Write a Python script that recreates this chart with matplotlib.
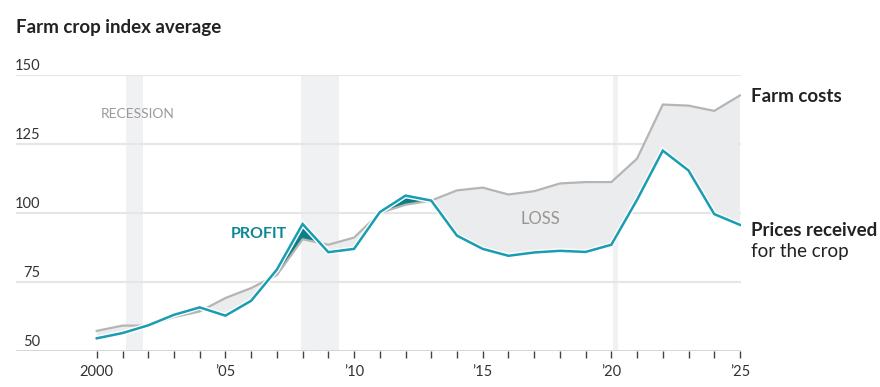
import matplotlib.pyplot as plt
import numpy as np

years = list(range(2000, 2026))
farm_costs = [57.3, 59.2, 59.2, 62.3, 64.3, 69.2, 72.8, 77.5, 90.5, 88.5, 91.1,
              100.0, 103.0, 104.5, 108.2, 109.2, 106.7, 107.9, 110.7, 111.2,
              111.2, 119.7, 139.3, 138.9, 137.0, 142.6]
prices = [54.6, 56.5, 59.3, 63.1, 65.8, 62.8, 68.2, 79.5, 96.0, 85.8, 87.0,
          100.3, 106.3, 104.5, 91.8, 87.0, 84.5, 85.7, 86.3, 85.9,
          88.5, 104.8, 122.6, 115.4, 99.6, 95.7]
recessions = [(2001.15, 2001.8), (2007.92, 2009.42), (2020.08, 2020.25)]
y_ticks = [50, 75, 100, 125, 150]
x_ticks = [2000, 2005, 2010, 2015, 2020, 2025]
x_labels = ["2000", "\u201905", "\u201910", "\u201915", "\u201920", "\u201925"]

plt.rcParams['font.family'] = ['Lato', 'DejaVu Sans']

fig = plt.figure(figsize=(8.8, 3.87), dpi=100)
ax = fig.add_axes([16 / 880, 1 - 351 / 387, 725 / 880, 276 / 387])
ax.set_xlim(1996.86, 2025.04)
ax.set_ylim(50, 150)

for a, b in recessions:
    ax.axvspan(a, b, color="#f0f1f3", zorder=0, lw=0)

for v in y_ticks[1:]:
    ax.axhline(v, color="#e6e6e6", lw=1.5, zorder=1)
ax.axhline(50, color="#d0d0d0", lw=1.2, zorder=1)

x = np.array(years, dtype=float)
c = np.array(farm_costs)
p = np.array(prices)
ax.fill_between(x, c, p, where=c >= p, interpolate=True, color="#ebecee", lw=0, zorder=2)
ax.fill_between(x, c, p, where=p >= c, interpolate=True, color="#0b7f8a", lw=0, zorder=2)
ax.plot(x, c, color="#b5b5b5", lw=1.6, zorder=3)
ax.plot(x, p, color="white", lw=3.8, zorder=4, solid_joinstyle="miter")
ax.plot(x, p, color="#1a9db2", lw=1.8, zorder=5, solid_joinstyle="miter")

for s in ax.spines.values():
    s.set_visible(False)
ax.set_yticks([])
ax.set_xticks(years)
ax.set_xticklabels([])
ax.tick_params(axis="x", length=5, width=1, color="#444444", pad=0)

for xt, lab in zip(x_ticks, x_labels):
    ax.text(xt, 42.5, lab, ha="center", va="center", fontsize=10.5,
            color="#333333", clip_on=False)

for v in y_ticks:
    fig.text(40 / 880, 1 - (351 - (v - 50) * 2.76 - 9) / 387, str(v),
             ha="right", va="center", fontsize=10.5, color="#333333")

fig.text(16 / 880, 1 - 27 / 387, "Farm crop index average", ha="left", va="center",
         fontsize=13.5, fontweight="bold", color="#222222")

ax.text(2000.15, 135.8, "RECESSION", ha="left", va="center", fontsize=10,
        color="#a09a96")
ax.text(2007.4, 92.5, "PROFIT", ha="right", va="center", fontsize=11.5,
        fontweight="bold", color="#0b8796")
ax.text(2017.23, 97.9, "LOSS", ha="center", va="center", fontsize=12,
        color="#999590")

fig.text(751 / 880, 1 - 96 / 387, "Farm costs", ha="left", va="center",
         fontsize=13.5, fontweight="bold", color="#222222")
fig.text(751 / 880, 1 - 231 / 387, "Prices received", ha="left", va="center",
         fontsize=13.5, fontweight="bold", color="#222222")
fig.text(751 / 880, 1 - 252 / 387, "for the crop", ha="left", va="center",
         fontsize=13.5, color="#222222")

fig.savefig("out.png", dpi=100)
